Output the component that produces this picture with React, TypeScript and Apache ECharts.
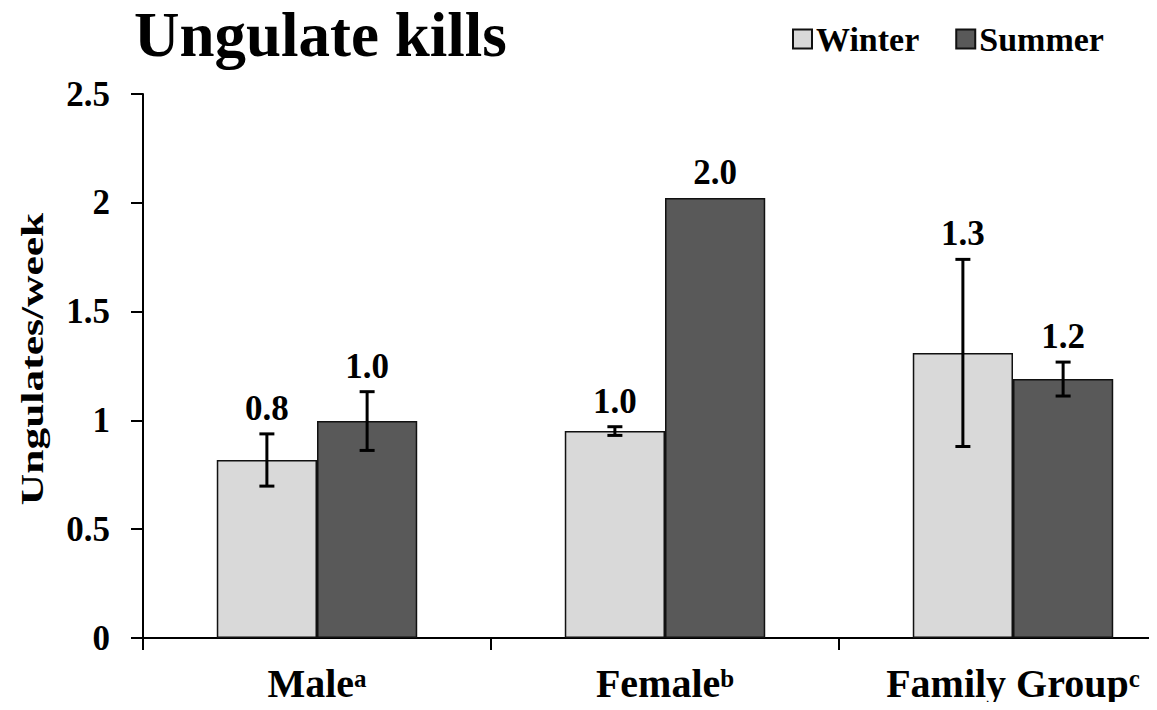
import React, { useEffect, useRef } from "react";
import * as echarts from "echarts";

// Groups and their superscript markers
const categories = ["Male", "Female", "Family Group"];
const superscripts = ["a", "b", "c"];

// Kill rates (ungulates per week) and error bar half-widths
const winter = [0.818, 0.951, 1.31];
const summer = [0.997, 2.022, 1.19];
const winterErr = [0.12, 0.02, 0.43];
const summerErr = [0.135, 0, 0.078];

const seriesNames = ["Winter", "Summer"];
const yTicks = [0, 0.5, 1, 1.5, 2, 2.5];

const SERIF = "'Liberation Serif', 'Times New Roman', serif";
const BAR_FRAC = 0.288;

export default function App() {
  const ref = useRef<HTMLDivElement>(null);

  useEffect(() => {
    if (!ref.current) return;
    const chart = echarts.init(ref.current, undefined, { renderer: "svg" });

    const errRows: number[][] = [];
    categories.forEach((_, i) => {
      errRows.push([i, winter[i], winterErr[i], 0]);
      errRows.push([i, summer[i], summerErr[i], 1]);
    });

    const rich: Record<string, any> = {
      n: { fontFamily: SERIF, fontWeight: "bold", fontSize: 40, color: "#000", lineHeight: 42 },
      s: { fontFamily: SERIF, fontWeight: "bold", fontSize: 25, color: "#000", lineHeight: 42, verticalAlign: "top", padding: [4, 0, 0, 0] },
    };

    chart.setOption({
      animation: false,
      backgroundColor: "#fff",
      title: {
        text: "Ungulate kills",
        left: 134,
        top: 3,
        padding: 0,
        textStyle: { fontFamily: SERIF, fontWeight: "bold", fontSize: 63, color: "#000" },
      },
      legend: {
        data: seriesNames,
        left: 792,
        top: 22,
        padding: 0,
        itemWidth: 19,
        itemHeight: 19,
        itemGap: 36,
        icon: "rect",
        textStyle: { fontFamily: SERIF, fontWeight: "bold", fontSize: 34, color: "#000", padding: [0, 0, 0, -1] },
      },
      grid: { left: 143, top: 94, bottom: 72, right: -30, containLabel: false, outerBoundsMode: "none" },
      xAxis: {
        type: "category",
        data: categories,
        axisLine: { lineStyle: { color: "#000", width: 2 } },
        axisTick: { show: true, length: 12, lineStyle: { color: "#000", width: 2 } },
        axisLabel: {
          margin: 24,
          formatter: (v: string) => {
            const i = categories.indexOf(v);
            return `{n|${v}}{s|${superscripts[i]}}`;
          },
          rich,
        },
      },
      yAxis: {
        type: "value",
        min: yTicks[0],
        max: yTicks[yTicks.length - 1],
        interval: 0.5,
        axisLine: { show: true, lineStyle: { color: "#000", width: 2 } },
        axisTick: { show: true, length: 12, lineStyle: { color: "#000", width: 2 } },
        splitLine: { show: false },
        axisLabel: {
          margin: 33,
          fontFamily: SERIF,
          fontWeight: "bold",
          fontSize: 35,
          color: "#000",
          formatter: (v: number) => String(v),
        },
      },
      graphic: [
        {
          type: "text",
          x: 32,
          y: 359,
          rotation: Math.PI / 2,
          scaleX: 1.36,
          style: {
            text: "Ungulates/week",
            fontFamily: SERIF,
            fontWeight: "bold",
            fontSize: 32,
            fill: "#000",
            align: "center",
            verticalAlign: "middle",
          },
        },
      ],
      series: [
        {
          name: seriesNames[0],
          type: "bar",
          data: winter,
          barWidth: `${BAR_FRAC * 100}%`,
          barGap: "0%",
          itemStyle: { color: "#d9d9d9", borderColor: "#111", borderWidth: 1.5 },
        },
        {
          name: seriesNames[1],
          type: "bar",
          data: summer,
          barWidth: `${BAR_FRAC * 100}%`,
          barGap: "0%",
          itemStyle: { color: "#595959", borderColor: "#111", borderWidth: 1.5 },
        },
        {
          type: "custom",
          data: errRows,
          encode: { x: 0, y: 1 },
          z: 10,
          clip: false,
          renderItem: (params: any, api: any) => {
            const cat = api.value(0);
            const v = api.value(1);
            const e = api.value(2);
            const s = api.value(3);
            const catW = api.size([1, 0])[0];
            const bw = catW * BAR_FRAC;
            const base = api.coord([cat, v]);
            const x = base[0] + (s === 0 ? -bw / 2 : bw / 2);
            const top = api.coord([cat, v + e])[1];
            const bot = api.coord([cat, v - e])[1];
            const cap = 7.5;
            const ls = { stroke: "#000", lineWidth: 3 };
            const children: any[] = [];
            if (e > 0) {
              children.push(
                { type: "line", shape: { x1: x, y1: top, x2: x, y2: bot }, style: ls },
                { type: "line", shape: { x1: x - cap, y1: top, x2: x + cap, y2: top }, style: ls },
                { type: "line", shape: { x1: x - cap, y1: bot, x2: x + cap, y2: bot }, style: ls }
              );
            }
            children.push({
              type: "text",
              x,
              y: (e > 0 ? top : base[1]) - 8,
              style: {
                text: v.toFixed(1),
                fontFamily: SERIF,
                fontWeight: "bold",
                fontSize: 35,
                fill: "#000",
                align: "center",
                verticalAlign: "bottom",
              },
            });
            return { type: "group", children };
          },
        },
      ],
    });

    return () => chart.dispose();
  }, []);

  return <div ref={ref} style={{ width: 1157, height: 710, margin: -8 }} />;
}
